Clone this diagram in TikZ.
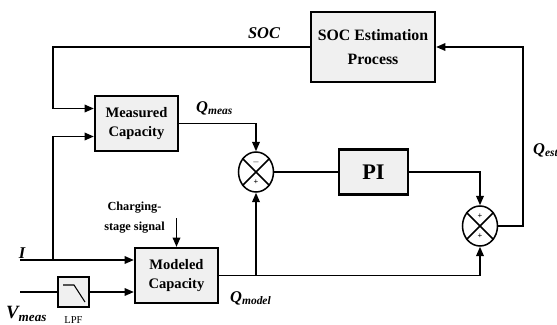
\documentclass[tikz,border=0pt]{standalone}
\usepackage{fontspec}
\setmainfont{Liberation Serif}
\usetikzlibrary{positioning,arrows.meta,shapes.geometric,calc}
\definecolor{boxfill}{RGB}{240,240,240}
\tikzset{
  block/.style={draw=black, line width=1.9pt, fill=boxfill, align=center, inner sep=0pt,
                font=\bfseries\fontsize{12.4}{17}\selectfont},
  sumjn/.style={draw=black, line width=1.3pt, ellipse, inner sep=0pt,
                minimum width=1.05cm, minimum height=1.2cm},
  wire/.style={line width=1.4pt},
  sig/.style={wire, -{Triangle[length=8pt,width=6.5pt]}},
  lbl/.style={font=\bfseries\itshape\fontsize{14}{16}\selectfont, inner sep=0pt},
  sgn/.style={font=\bfseries\fontsize{7}{7}\selectfont, inner sep=0pt}
}
\newcommand{\sumnode}[4]{%
  \node[sumjn] (#1) at (#2) {};
  \draw[wire] (#1.45) -- (#1.225) (#1.135) -- (#1.315);
  \node[sgn] at ($(#1.center)+(0,-10)$) {#3};
  \node[sgn] at ($(#1.center)+(0,10)$) {#4};}

\begin{document}
\begin{tikzpicture}[x=0.03cm, y=-0.03cm]
  \useasboundingbox (0,0) rectangle (557,324);
  % blocks
  \node[block, font=\bfseries\fontsize{13.5}{20.5}\selectfont,
        minimum width=3.72cm, minimum height=2.1cm] (soc) at (373,47) {SOC Estimation\\Process};
  \node[block, minimum width=2.49cm, minimum height=1.65cm] (meas) at (136.5,123.5) {Measured\\Capacity};
  \node[block, minimum width=2.49cm, minimum height=1.65cm] (model) at (176.5,275.5) {Modeled\\Capacity};
  \node[block, font=\bfseries\fontsize{19}{21}\selectfont,
        minimum width=2.07cm, minimum height=1.35cm] (pi) at (373.5,172) {PI};
  \node[block, line width=1.6pt, minimum width=0.93cm, minimum height=0.9cm] (lpf) at (73.5,292) {};
  \draw[line width=0.9pt] ($(lpf.center)+(-10.5,-7)$) -- ++(11,0) -- ++(11,17);
  \sumnode{s1}{256,172}{$-$}{+}
  \sumnode{s2}{480,226}{+}{+}
  % free ends and side inputs
  \coordinate (jI) at (53,260);
  \coordinate (iin) at (20,260);
  \coordinate (vin) at (20,292);
  \coordinate (chg) at (176.5,218);
  \coordinate (m1) at ($(meas.west)+(0,-15)$);
  \coordinate (m2) at ($(meas.west)+(0,13)$);
  \coordinate (d1) at ($(model.west)+(0,-15.5)$);
  \coordinate (d2) at ($(model.west)+(0,16.5)$);
  % connectors
  \draw[sig] (soc.west) -| (jI |- m1) -- (m1);
  \draw[sig] (jI) |- (m2);
  \draw[sig] (iin) -- (d1);
  \draw[wire] (vin) -- (lpf.west);
  \draw[sig] (lpf.east) -- (d2);
  \draw[sig] (chg) -- (model.north);
  \draw[sig] (meas.east) -| (s1.north);
  \draw[sig] (model.east) -| (s2.south);
  \draw[sig] (s1.south |- model.east) -- (s1.south);
  \draw[wire] (s1.east) -- (pi.west);
  \draw[sig] (pi.east) -| (s2.north);
  \draw[sig] (s2.east) -- ++(25,0) |- (soc.east);
  % labels
  \node[lbl] (soclbl) at (264,33) {SOC};
  \node[lbl, anchor=west] (qmeas) at (196,108) {Q\textsubscript{meas}};
  \node[lbl, anchor=west] (qmodel) at (230,298) {Q\textsubscript{model}};
  \node[lbl, anchor=west] (qest) at (533,150) {Q\textsubscript{est}};
  \node[lbl] (ilbl) at (22,253) {I};
  \node[lbl, anchor=west, font=\bfseries\itshape\fontsize{16}{18}\selectfont] (vlbl) at (6,314) {V\textsubscript{meas}};
  \node[font=\fontsize{9}{10}\selectfont, inner sep=0pt] (lpflbl) at (73.5,320) {LPF};
  \node[align=center, inner sep=0pt, font=\bfseries\fontsize{10.5}{17}\selectfont] (chglbl) at (134.5,218) {Charging-\\stage signal};
\end{tikzpicture}
\end{document}
